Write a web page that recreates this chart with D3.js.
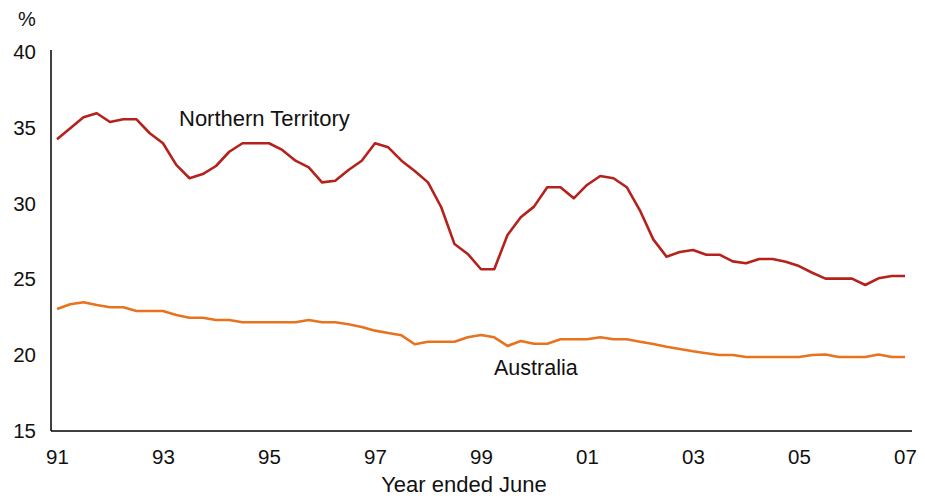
<!DOCTYPE html>
<html>
<head>
<meta charset="utf-8">
<script src="https://cdn.jsdelivr.net/npm/d3@7"></script>
<style>
  body { margin: 0; background: #fff; }
  svg text { font-family: "Liberation Sans", Arial, sans-serif; fill: #111; }
  .axis path { stroke: #000; stroke-width: 1.5; }
</style>
</head>
<body>
<svg id="chart" width="925" height="498"></svg>
<script>
// quarterly, June 1991 to June 2007
var northernTerritory = [34.24, 34.97, 35.69, 35.96, 35.38, 35.56, 35.56, 34.64, 33.98, 32.55,
    31.67, 31.95, 32.48, 33.42, 33.98, 33.98, 33.98, 33.54, 32.83, 32.39,
    31.4, 31.51, 32.22, 32.83, 33.98, 33.71, 32.83, 32.15, 31.4, 29.76,
    27.33, 26.68, 25.67, 25.67, 27.93, 29.1, 29.8, 31.08, 31.08, 30.35,
    31.23, 31.82, 31.67, 31.08, 29.54, 27.64, 26.5, 26.81, 26.94, 26.63,
    26.63, 26.19, 26.06, 26.35, 26.35, 26.17, 25.88, 25.44, 25.05, 25.05,
    25.05, 24.63, 25.07, 25.22, 25.22];

var australia = [23.05, 23.36, 23.49, 23.31, 23.16, 23.16, 22.92, 22.92, 22.92, 22.65,
    22.47, 22.47, 22.32, 22.32, 22.17, 22.17, 22.17, 22.17, 22.17, 22.32,
    22.17, 22.17, 22.04, 21.86, 21.62, 21.47, 21.31, 20.72, 20.89, 20.89,
    20.89, 21.18, 21.33, 21.18, 20.61, 20.94, 20.76, 20.76, 21.05, 21.05,
    21.05, 21.18, 21.05, 21.05, 20.89, 20.74, 20.56, 20.41, 20.26, 20.13,
    20.01, 20.01, 19.88, 19.88, 19.88, 19.88, 19.88, 20.01, 20.05, 19.88,
    19.88, 19.88, 20.05, 19.88, 19.88];

var xTickLabels = ["91", "93", "95", "97", "99", "01", "03", "05", "07"];
var yTicks = [15, 20, 25, 30, 35, 40];

var svg = d3.select("#chart");

var x = d3.scaleLinear().domain([0, northernTerritory.length - 1]).range([57, 905]);
var y = d3.scaleLinear().domain([15, 40]).range([431, 52]);

var xAxis = d3.axisBottom(x)
    .tickValues(xTickLabels.map(function(d, i) { return i * 8; }))
    .tickFormat(function(d, i) { return xTickLabels[i]; })
    .tickSize(0)
    .tickPadding(18);

var gx = svg.append("g")
    .attr("class", "axis")
    .attr("transform", "translate(0,431)")
    .call(xAxis);
gx.select(".domain").remove();
gx.selectAll("text").style("font-size", "20.5px");

svg.append("line")
    .attr("x1", 51).attr("x2", 912)
    .attr("y1", 431).attr("y2", 431)
    .attr("stroke", "#000").attr("stroke-width", 1.5);

var yAxis = d3.axisLeft(y)
    .tickValues(yTicks)
    .tickSize(0)
    .tickPadding(15);

var gy = svg.append("g")
    .attr("class", "axis")
    .attr("transform", "translate(51,0)")
    .call(yAxis);
gy.select(".domain").attr("d", "M0," + 50 + "V431");
gy.selectAll("text").style("font-size", "20.5px");

var line = d3.line()
    .x(function(d, i) { return x(i); })
    .y(function(d) { return y(d); });

svg.append("path")
    .datum(australia)
    .attr("fill", "none")
    .attr("stroke", "#e8731f")
    .attr("stroke-width", 2.6)
    .attr("stroke-linejoin", "round")
    .attr("d", line);

svg.append("path")
    .datum(northernTerritory)
    .attr("fill", "none")
    .attr("stroke", "#b5211b")
    .attr("stroke-width", 2.6)
    .attr("stroke-linejoin", "round")
    .attr("d", line);

svg.append("text").attr("x", 18).attr("y", 26).style("font-size", "20px").text("%");

svg.append("text").attr("x", 179).attr("y", 126).style("font-size", "22px").text("Northern Territory");
svg.append("text").attr("x", 494).attr("y", 375).style("font-size", "21.5px").text("Australia");

svg.append("text")
    .attr("x", 464).attr("y", 492)
    .attr("text-anchor", "middle")
    .style("font-size", "22px")
    .text("Year ended June");
</script>
</body>
</html>
